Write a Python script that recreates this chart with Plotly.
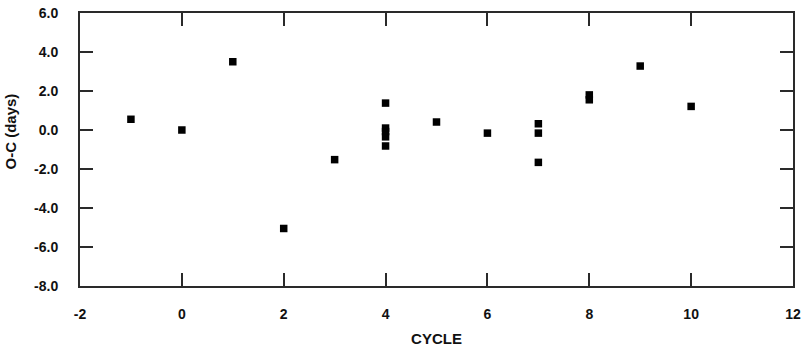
import plotly.graph_objects as go

# O-C residuals per observed cycle
cycle = [-1, 0, 1, 2, 3, 4, 4, 4, 4, 4, 5, 6, 7, 7, 7, 8, 8, 9, 10]
o_c_days = [0.55, 0.0, 3.5, -5.05, -1.52, 1.38, 0.1, -0.08, -0.35, -0.82,
            0.41, -0.16, 0.32, -0.16, -1.66, 1.8, 1.55, 3.28, 1.21]

x_ticks = [-2, 0, 2, 4, 6, 8, 10, 12]
x_tick_labels = ["-2", "0", "2", "4", "6", "8", "10", "12"]
y_ticks = [-8, -6, -4, -2, 0, 2, 4, 6]
y_tick_labels = ["-8.0", "-6.0", "-4.0", "-2.0", "0.0", "2.0", "4.0", "6.0"]

FONT = "Liberation Sans, Arial, sans-serif"
INK = "#111111"
FRAME = "#2a2a2a"

fig = go.Figure()
fig.add_trace(go.Scatter(
    x=cycle, y=o_c_days, mode="markers",
    marker=dict(symbol="square", size=7.5, color="black", line=dict(width=0)),
    showlegend=False, hoverinfo="x+y",
))

axis_common = dict(
    showline=True, linecolor=FRAME, linewidth=2, mirror="ticks",
    ticks="inside", ticklen=13, tickwidth=2, tickcolor=FRAME,
    showgrid=False, zeroline=False, automargin=False,
    tickfont=dict(family=FONT, size=14, color=INK),
)

fig.update_xaxes(
    range=[-2, 12], tickvals=x_ticks,
    ticktext=[f"<b>{t}</b>" for t in x_tick_labels],
    ticklabelstandoff=14,
    title=dict(text="<b>CYCLE</b>", font=dict(family=FONT, size=15, color=INK),
               standoff=13),
    **axis_common,
)
fig.update_yaxes(
    range=[-8, 6], tickvals=y_ticks,
    ticktext=[f"<b>{t}</b>" for t in y_tick_labels],
    ticklabelstandoff=17,
    **axis_common,
)

fig.add_annotation(
    text="<b>O-C (days)</b>", textangle=-90,
    xref="paper", yref="paper", x=0, y=0.566,
    xanchor="center", yanchor="middle", xshift=-70, showarrow=False,
    font=dict(family=FONT, size=15, color=INK),
)

fig.update_layout(
    width=803, height=350,
    margin=dict(l=80, r=10, t=13, b=64),
    paper_bgcolor="white", plot_bgcolor="white",
)

fig.write_html("out.html")
